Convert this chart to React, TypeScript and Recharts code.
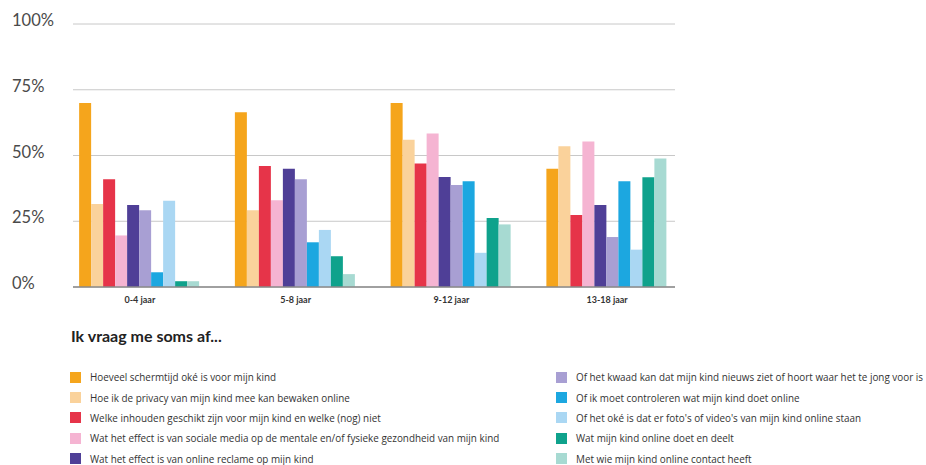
import { BarChart, Bar, XAxis, YAxis, CartesianGrid, Legend } from 'recharts';

const ageGroups = ['0-4 jaar', '5-8 jaar', '9-12 jaar', '13-18 jaar'];

const questions = [
  'Hoeveel schermtijd oké is voor mijn kind',
  'Hoe ik de privacy van mijn kind mee kan bewaken online',
  'Welke inhouden geschikt zijn voor mijn kind en welke (nog) niet',
  'Wat het effect is van sociale media op de mentale en/of fysieke gezondheid van mijn kind',
  'Wat het effect is van online reclame op mijn kind',
  'Of het kwaad kan dat mijn kind nieuws ziet of hoort waar het te jong voor is',
  'Of ik moet controleren wat mijn kind doet online',
  "Of het oké is dat er foto's of video's van mijn kind online staan",
  'Wat mijn kind online doet en deelt',
  'Met wie mijn kind online contact heeft',
];

const colors = [
  '#F5A51C',
  '#FAD29B',
  '#E63449',
  '#F5B4D2',
  '#4F3F97',
  '#A89FD3',
  '#1CA7E0',
  '#AAD7F3',
  '#0FA28C',
  '#A7DAD2',
];

// percentages per question, one entry per age group
const screenTime = [70, 66.4, 70, 45];
const privacy = [31.6, 29.2, 56, 53.5];
const content = [41, 46, 47, 27.4];
const socialMedia = [19.6, 33, 58.4, 55.3];
const advertising = [31.2, 45, 41.8, 31.2];
const news = [29.2, 41, 38.8, 19];
const monitoring = [5.6, 17, 40.2, 40.2];
const photos = [32.8, 21.7, 13, 14.2];
const activity = [2.2, 11.7, 26.2, 41.7];
const contacts = [2.2, 4.9, 23.8, 48.9];

const yTicks = [0, 25, 50, 75, 100];

const seriesValues = [
  screenTime,
  privacy,
  content,
  socialMedia,
  advertising,
  news,
  monitoring,
  photos,
  activity,
  contacts,
];

const data = ageGroups.map((group, i) => {
  const row: Record<string, string | number> = { group };
  seriesValues.forEach((values, s) => {
    row[`q${s}`] = values[i];
  });
  return row;
});

const font = 'Lato, "Open Sans", sans-serif';
const legendFont = '"Open Sans", Lato, sans-serif';

const YTick = ({ y, payload }: any) => (
  <text x={12} y={y - 2} fill="#4a4a4a" fontSize={16.5} fontFamily={font} textAnchor="start" dominantBaseline="middle">
    {`${payload.value}%`}
  </text>
);

const XTick = ({ x, y, payload }: any) => (
  <text x={x} y={y + 8} fill="#333" fontSize={9} fontWeight={700} fontFamily={font} textAnchor="middle">
    {payload.value}
  </text>
);

const LegendBlock = () => {
  const left = questions.slice(0, 5);
  const right = questions.slice(5);
  const item = (label: string, idx: number) => (
    <div key={label} style={{ display: 'flex', alignItems: 'center', height: 20.4 }}>
      <span style={{ width: 11, height: 11, background: colors[idx], marginRight: 9, flexShrink: 0 }} />
      <span style={{ fontSize: 9.9, color: '#333', whiteSpace: 'nowrap' }}>{label}</span>
    </div>
  );
  return (
    <div style={{ fontFamily: legendFont, position: 'relative', width: 926 }}>
      <div style={{ position: 'absolute', left: 71, top: 16, fontSize: 16, fontWeight: 700, color: '#222', fontFamily: font }}>
        Ik vraag me soms af...
      </div>
      <div style={{ position: 'absolute', left: 70, top: 57 }}>{left.map((q, i) => item(q, i))}</div>
      <div style={{ position: 'absolute', left: 556, top: 57 }}>{right.map((q, i) => item(q, i + 5))}</div>
    </div>
  );
};

export default function App() {
  return (
    <div style={{ position: 'absolute', left: 0, top: 0, width: 926, height: 465, background: '#fff' }}>
      <BarChart
        width={926}
        height={465}
        data={data}
        margin={{ top: 24, right: 251, bottom: 158, left: 0 }}
        barCategoryGap="11%"
        barGap={0}
      >
        <CartesianGrid vertical={false} stroke="#c8c8c8" strokeWidth={1} />
        <XAxis
          dataKey="group"
          height={20}
          tick={<XTick />}
          tickLine={false}
          axisLine={{ stroke: '#8a8a8a', strokeWidth: 1.5 }}
          padding={{ left: -11, right: -10 }}
        />
        <YAxis
          width={73}
          domain={[0, 100]}
          ticks={yTicks}
          tick={<YTick />}
          axisLine={false}
          tickLine={false}
        />
        <Legend
          verticalAlign="bottom"
          wrapperStyle={{ left: 0, top: 310, width: 926 }}
          content={() => <LegendBlock />}
        />
        {questions.map((q, i) => (
          <Bar key={q} dataKey={`q${i}`} name={q} fill={colors[i]} isAnimationActive={false} />
        ))}
      </BarChart>
    </div>
  );
}
